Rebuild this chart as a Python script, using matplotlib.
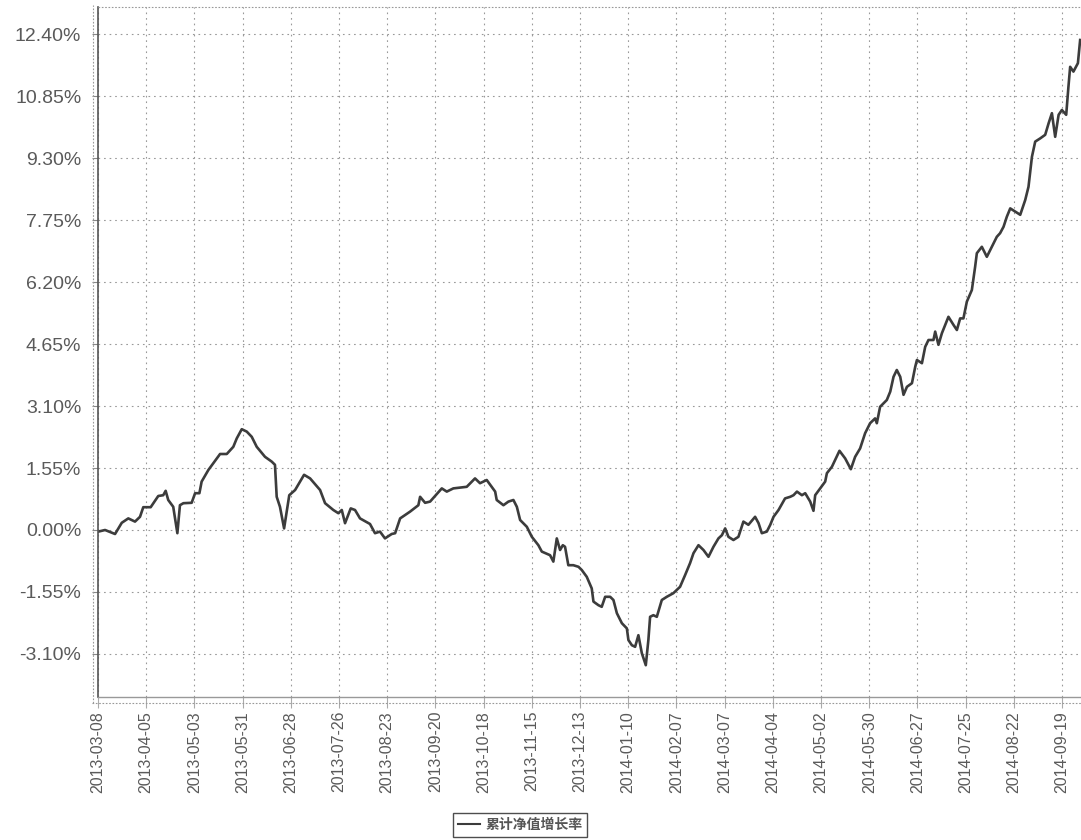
import datetime as dt
import matplotlib
matplotlib.use("Agg")
import matplotlib.pyplot as plt
import matplotlib.dates as mdates
from matplotlib.lines import Line2D
from matplotlib.ticker import FixedLocator, FuncFormatter

start_date = dt.date(2013, 3, 8)
day_offsets = [
    0.2, 4.1, 9.9, 13.8, 17.6, 21.5, 24.4, 26.3, 30.6, 35.0, 37.9, 39.3, 40.8, 43.7, 46.1,
    47.6, 49.6, 54.4, 56.4, 58.9, 60.2, 64.1, 69.0, 70.9, 74.8, 78.6, 80.6, 83.5, 86.4,
    89.3, 92.2, 97.0, 100.9, 102.8, 103.8, 105.7, 108.1, 109.6, 111.1, 114.5, 117.4,
    119.7, 123.2, 129.0, 131.9, 136.7, 139.6, 141.6, 143.5, 146.8, 149.3, 152.2, 158.0,
    160.9, 163.8, 166.7, 170.6, 172.6, 175.5, 181.3, 186.1, 187.1, 190.0, 192.9, 199.7,
    202.6, 206.4, 214.2, 219.0, 221.9, 225.8, 230.7, 231.6, 235.5, 238.4, 241.3, 243.3,
    245.2, 249.1, 252.0, 255.8, 257.8, 262.6, 264.5, 266.5, 268.4, 270.0, 271.3, 273.2,
    276.1, 279.1, 281.0, 283.9, 286.8, 287.8, 290.7, 292.6, 294.6, 297.5, 299.4, 301.4,
    304.3, 307.2, 308.1, 310.1, 312.0, 313.9, 315.9, 318.2, 319.7, 320.7, 322.6, 324.6,
    327.5, 330.4, 334.2, 338.1, 341.0, 343.9, 345.9, 348.8, 351.7, 354.6, 357.5, 360.4,
    362.4, 364.3, 366.2, 369.1, 372.0, 374.9, 377.8, 381.7, 383.7, 385.6, 388.5, 390.5,
    392.4, 395.3, 399.1, 402.1, 404.0, 406.0, 408.9, 410.8, 413.7, 415.6, 416.6, 419.5,
    422.4, 423.4, 426.3, 430.7, 434.0, 437.3, 439.8, 442.7, 445.6, 448.5, 451.4, 452.4,
    454.3, 458.2, 460.2, 462.1, 464.0, 466.0, 467.9, 469.9, 472.8, 474.7, 475.7, 478.6,
    480.5, 482.4, 485.3, 486.3, 488.2, 490.2, 494.0, 496.9, 498.9, 500.8, 502.7, 504.7,
    507.6, 509.5, 510.5, 513.4, 516.3, 519.2, 522.1, 524.0, 526.0, 527.9, 529.9, 532.8,
    535.7, 538.6, 540.5, 542.5, 544.4, 547.3, 550.2, 552.2, 554.1, 556.0, 558.0, 559.9,
    562.4, 563.7, 564.7, 566.6, 569.2, 570.5,
]
growth_pct = [
    -0.04, 0.00, -0.10, 0.18, 0.29, 0.21, 0.33, 0.57, 0.57, 0.85, 0.87, 0.98, 0.75, 0.58, -0.08,
    0.62, 0.67, 0.68, 0.92, 0.92, 1.21, 1.50, 1.79, 1.90, 1.90, 2.08, 2.29, 2.52, 2.46,
    2.33, 2.08, 1.83, 1.71, 1.63, 0.83, 0.58, 0.04, 0.46, 0.87, 1.00, 1.21,
    1.38, 1.29, 1.00, 0.67, 0.50, 0.42, 0.50, 0.17, 0.54, 0.50, 0.29, 0.15,
    -0.08, -0.04, -0.21, -0.10, -0.08, 0.29, 0.46, 0.62, 0.83, 0.68, 0.71, 1.04,
    0.96, 1.04, 1.08, 1.29, 1.17, 1.25, 0.96, 0.75, 0.62, 0.71, 0.75, 0.58,
    0.25, 0.08, -0.17, -0.38, -0.54, -0.63, -0.79, -0.21, -0.50, -0.38, -0.42, -0.88,
    -0.88, -0.92, -1.00, -1.17, -1.46, -1.79, -1.88, -1.92, -1.67, -1.67, -1.75, -2.08,
    -2.33, -2.46, -2.75, -2.88, -2.92, -2.63, -3.08, -3.38, -2.75, -2.17, -2.13, -2.17,
    -1.75, -1.67, -1.58, -1.42, -1.13, -0.83, -0.58, -0.38, -0.50, -0.67, -0.42, -0.21,
    -0.13, 0.04, -0.17, -0.25, -0.17, 0.21, 0.13, 0.33, 0.17, -0.08, -0.04, 0.13,
    0.33, 0.50, 0.79, 0.83, 0.87, 0.96, 0.87, 0.92, 0.71, 0.48, 0.87, 1.04,
    1.21, 1.42, 1.58, 1.98, 1.79, 1.52, 1.83, 2.04, 2.42, 2.67, 2.79, 2.67,
    3.08, 3.25, 3.46, 3.83, 4.00, 3.83, 3.38, 3.58, 3.67, 4.08, 4.25, 4.17,
    4.58, 4.75, 4.75, 4.96, 4.63, 4.92, 5.33, 5.13, 5.00, 5.29, 5.29, 5.71,
    6.00, 6.58, 6.92, 7.08, 6.83, 7.08, 7.33, 7.42, 7.58, 7.83, 8.04, 7.96,
    7.88, 8.25, 8.58, 9.33, 9.71, 9.79, 9.88, 10.17, 10.42, 9.83, 10.38, 10.50,
    10.38, 11.08, 11.58, 11.46, 11.67, 12.25,
]
x_tick_labels = [
    "2013-03-08", "2013-04-05", "2013-05-03", "2013-05-31", "2013-06-28", "2013-07-26",
    "2013-08-23", "2013-09-20", "2013-10-18", "2013-11-15", "2013-12-13", "2014-01-10",
    "2014-02-07", "2014-03-07", "2014-04-04", "2014-05-02", "2014-05-30", "2014-06-27",
    "2014-07-25", "2014-08-22", "2014-09-19",
]
y_ticks = [-3.10, -1.55, 0.00, 1.55, 3.10, 4.65, 6.20, 7.75, 9.30, 10.85, 12.40]
series_name = "累计净值增长率"

W, H = 1081, 840
fig = plt.figure(figsize=(W / 100, H / 100), dpi=100)
ax = fig.add_axes([98 / W, 1 - 697 / H, (W - 98) / W, (697 - 7) / H])

dates = [mdates.date2num(start_date) + d for d in day_offsets]
ax.plot(dates, growth_pct, color="#3c3c3c", lw=1.9, label=series_name, solid_joinstyle="round")

tick_dates = [mdates.date2num(dt.date.fromisoformat(s)) for s in x_tick_labels]
ax.set_xlim(mdates.date2num(start_date), mdates.date2num(start_date) + 571)
ax.set_ylim(-4.175, 13.075)
ax.xaxis.set_major_locator(FixedLocator(tick_dates))
ax.set_xticklabels(x_tick_labels, rotation=90, fontsize=11.5, color="#5a5a5a",
                   family="Liberation Sans")
ax.set_yticks(y_ticks)
ax.yaxis.set_major_formatter(FuncFormatter(lambda v, p: f"{v:.2f}%"))
for lab in ax.get_yticklabels():
    lab.set_fontsize(14)
    lab.set_color("#5a5a5a")
    lab.set_family("Liberation Sans")
ax.tick_params(axis="y", length=4, width=0.8, color="#888888", pad=8, direction="out")
ax.tick_params(axis="x", length=8, width=0.8, color="#aaaaaa", pad=2, direction="out")

ax.grid(True, color="#999999", linestyle=(0, (1.5, 3.5)), lw=0.8)
for s in ["top", "right"]:
    ax.spines[s].set_visible(False)
ax.spines["left"].set_color("#555555")
ax.spines["left"].set_linewidth(1.2)
ax.spines["bottom"].set_color("#999999")
ax.spines["bottom"].set_linewidth(1.0)

# top dotted frame line and the outer dotted rules
fig.add_artist(Line2D([98 / W, 1], [1 - 7 / H, 1 - 7 / H], transform=fig.transFigure,
                      color="#999999", lw=0.8, linestyle=(0, (1.5, 1.5))))
fig.add_artist(Line2D([92 / W, 1], [1 - 703 / H, 1 - 703 / H], transform=fig.transFigure,
                      color="#999999", lw=0.8, linestyle=(0, (1.5, 1.5))))
fig.add_artist(Line2D([93 / W, 93 / W], [1 - 703 / H, 1 - 5 / H], transform=fig.transFigure,
                      color="#999999", lw=0.8, linestyle=(0, (1.5, 1.5))))

leg = ax.legend(loc="upper center", bbox_to_anchor=(520 / W, 1 - 806 / H),
                bbox_transform=fig.transFigure, frameon=True, fancybox=False,
                handlelength=1.6, handletextpad=0.4, borderpad=0.35,
                prop={"family": ["Noto Sans CJK SC", "DejaVu Sans"], "size": 10, "weight": "bold"})
leg.get_frame().set_edgecolor("#222222")
leg.get_frame().set_linewidth(1.0)
for t in leg.get_texts():
    t.set_color("#555555")
for h in leg.legend_handles:
    h.set_linewidth(1.5)

fig.savefig("out.png", dpi=100)
